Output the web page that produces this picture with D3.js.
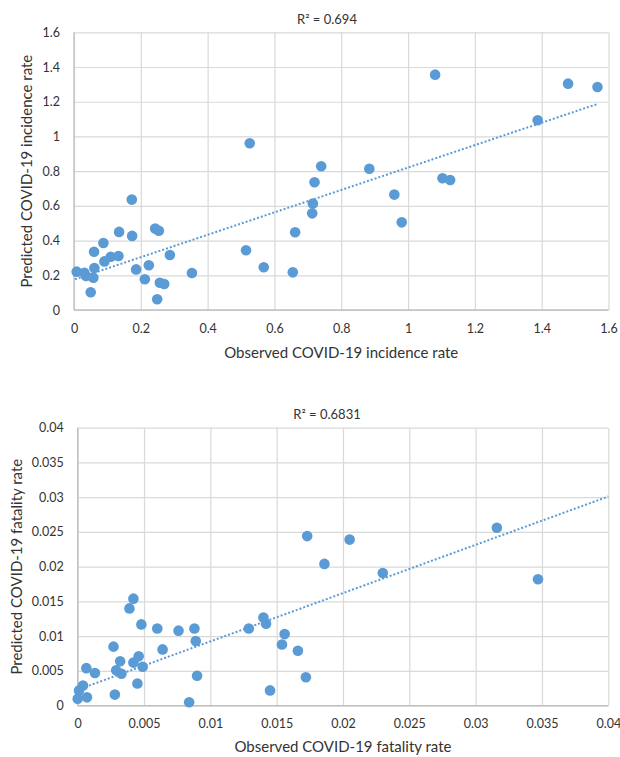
<!DOCTYPE html>
<html><head><meta charset="utf-8">
<script src="https://cdn.jsdelivr.net/npm/d3@7"></script>
<style>body{margin:0;background:#fff}text{font-family:Lato,"Open Sans",sans-serif;fill:#333}</style>
</head><body><svg id="c" width="620" height="757"></svg>
<script>
// Chart 1: incidence rate
const incObserved = [0.008,0.031,0.036,0.058,0.05,0.061,0.06,0.088,0.091,0.11,0.133,0.135,0.173,0.174,0.186,0.212,0.224,0.243,0.254,0.249,0.257,0.27,0.287,0.353,0.515,0.526,0.568,0.655,0.662,0.713,0.715,0.72,0.74,0.884,0.959,0.981,1.081,1.103,1.126,1.388,1.479,1.567];
const incPredicted = [0.221,0.215,0.196,0.186,0.102,0.242,0.336,0.386,0.28,0.307,0.311,0.45,0.636,0.427,0.234,0.177,0.258,0.469,0.457,0.062,0.157,0.15,0.317,0.213,0.344,0.961,0.246,0.217,0.448,0.557,0.613,0.736,0.828,0.814,0.665,0.505,1.356,0.759,0.749,1.093,1.304,1.285];
const incTrendX = [0.003,1.567];
const incTrendY = [0.177,1.187];
const incTicks = [0,0.2,0.4,0.6,0.8,1,1.2,1.4,1.6];
const incTickLabels = ["0","0.2","0.4","0.6","0.8","1","1.2","1.4","1.6"];
const incR2 = "R² = 0.694";
// Chart 2: fatality rate
const fatObserved = [0,0.0001,0.0004,0.0007,0.00065,0.0013,0.0027,0.0028,0.0029,0.0032,0.0033,0.0039,0.0042,0.0042,0.0046,0.0045,0.0048,0.0049,0.006,0.0064,0.0076,0.0084,0.0088,0.0089,0.009,0.0129,0.014,0.0142,0.0145,0.0154,0.0156,0.0166,0.0172,0.0173,0.0186,0.0205,0.023,0.0316,0.0347];
const fatPredicted = [0.001,0.0022,0.0029,0.0012,0.0054,0.0047,0.0085,0.0016,0.0051,0.0064,0.0046,0.014,0.0154,0.0062,0.0071,0.0032,0.0117,0.0056,0.0111,0.0081,0.0108,0.0005,0.0111,0.0093,0.0043,0.0111,0.0127,0.0118,0.0022,0.0088,0.0103,0.0079,0.0041,0.0244,0.0204,0.0239,0.0191,0.0256,0.0182];
const fatTrendX = [0,0.04];
const fatTrendY = [0.0023,0.0301];
const fatTicks = [0,0.005,0.01,0.015,0.02,0.025,0.03,0.035,0.04];
const fatTickLabels = ["0","0.005","0.01","0.015","0.02","0.025","0.03","0.035","0.04"];
const fatR2 = "R² = 0.6831";

const svg = d3.select("#c");
const blue = "#5b9bd5";

function chart(cfg){
  const g = svg.append("g");
  const x = d3.scaleLinear().domain([cfg.ticks[0], cfg.ticks[cfg.ticks.length-1]]).range([cfg.x0, cfg.x1]);
  const y = d3.scaleLinear().domain([cfg.ticks[0], cfg.ticks[cfg.ticks.length-1]]).range([cfg.y0, cfg.y1]);
  const xa = d3.axisBottom(x).tickValues(cfg.ticks).tickSize(-(cfg.y0-cfg.y1)).tickFormat((d,i)=>cfg.labels[i]).tickPadding(cfg.xpad);
  const ya = d3.axisLeft(y).tickValues(cfg.ticks).tickSize(-(cfg.x1-cfg.x0)).tickFormat((d,i)=>cfg.labels[i]).tickPadding(14);
  const gx = g.append("g").attr("transform",`translate(0,${cfg.y0})`).call(xa);
  const gy = g.append("g").attr("transform",`translate(${cfg.x0},0)`).call(ya);
  [gx,gy].forEach(a=>{
    a.select(".domain").remove();
    a.selectAll("line").attr("stroke","#d9d9d9").attr("stroke-width",1.2);
    a.selectAll("text").style("font-size","12.5px").attr("fill","#333");
  });
  g.append("line").attr("x1",cfg.x0).attr("x2",cfg.x1).attr("y1",cfg.y0).attr("y2",cfg.y0).attr("stroke","#bfbfbf").attr("stroke-width",1.3);
  g.append("line").attr("x1",cfg.x0).attr("x2",cfg.x0).attr("y1",cfg.y0).attr("y2",cfg.y1).attr("stroke","#bfbfbf").attr("stroke-width",1.3);
  const pts = cfg.xs.map((v,i)=>[v,cfg.ys[i]]);
  g.append("g").selectAll("circle").data(pts).join("circle")
    .attr("cx",d=>x(d[0])).attr("cy",d=>y(d[1])).attr("r",5.3).attr("fill",blue);
  const tl = cfg.tx.map((v,i)=>[v,cfg.ty[i]]);
  g.append("path").datum(tl).attr("d",d3.line().x(d=>x(d[0])).y(d=>y(d[1])))
    .attr("fill","none").attr("stroke",blue).attr("stroke-width",2).attr("stroke-dasharray","2,2");
  g.append("text").attr("x",327).attr("y",cfg.y1-8.5).attr("text-anchor","middle").style("font-size","13px").text(cfg.r2);
  g.append("text").attr("x",(cfg.x0+cfg.x1)/2).attr("y",cfg.y0+cfg.xty).attr("text-anchor","middle").style("font-size","15px").text(cfg.xt);
  g.append("text").attr("transform",`translate(${cfg.ytx},${(cfg.y0+cfg.y1)/2}) rotate(-90)`).attr("text-anchor","middle").style("font-size","15px").text(cfg.yt);
}

chart({xs:incObserved, ys:incPredicted, tx:incTrendX, ty:incTrendY, ticks:incTicks, labels:incTickLabels, r2:incR2,
  x0:74, x1:608.5, y0:310, y1:32.3, ytx:32, xpad:14, xty:47.5,
  xt:"Observed COVID-19 incidence rate", yt:"Predicted COVID-19 incidence rate"});
chart({xs:fatObserved, ys:fatPredicted, tx:fatTrendX, ty:fatTrendY, ticks:fatTicks, labels:fatTickLabels, r2:fatR2,
  x0:77.7, x1:608.3, y0:705.7, y1:427.7, ytx:22, xpad:13, xty:46,
  xt:"Observed COVID-19 fatality rate", yt:"Predicted COVID-19 fatality rate"});
</script></body></html>
